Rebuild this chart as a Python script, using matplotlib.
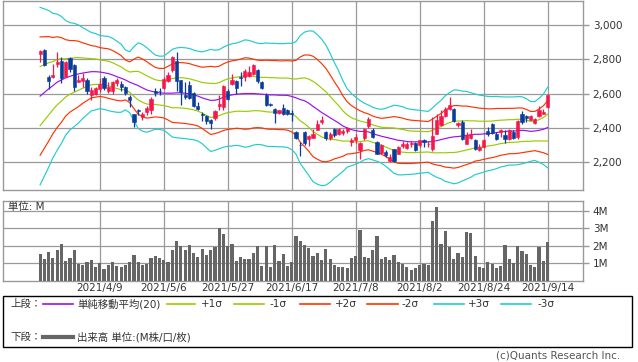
import matplotlib
matplotlib.use("Agg")
import matplotlib.pyplot as plt
import numpy as np
from matplotlib.lines import Line2D
from matplotlib.patches import Rectangle

plt.rcParams["font.family"] = ["DejaVu Sans", "Noto Sans CJK JP"]

# daily candles (index 0 .. 119, last = 2021/9/14)
open_ = [2830, 2855, 2699, 2696, 2773, 2792, 2699, 2805, 2767, 2670,
         2676, 2682, 2595, 2599, 2628, 2692, 2618, 2615, 2661, 2657,
         2641, 2580, 2480, 2507, 2464, 2493, 2503, 2618, 2618, 2632,
         2676, 2738, 2792, 2680, 2595, 2653, 2603, 2530, 2480, 2468,
         2445, 2460, 2526, 2522, 2615, 2657, 2676, 2699, 2699, 2705,
         2715, 2738, 2667, 2595, 2539, 2512, 2487, 2516, 2507, 2487,
         2378, 2304, 2378, 2339, 2345, 2391, 2435, 2376, 2345, 2397,
         2364, 2372, 2383, 2320, 2329, 2275, 2345, 2410, 2387, 2320,
         2256, 2262, 2210, 2277, 2252, 2295, 2287, 2306, 2314, 2300,
         2333, 2306, 2281, 2368, 2416, 2468, 2512, 2512, 2416, 2435,
         2310, 2345, 2333, 2271, 2291, 2383, 2426, 2368, 2377, 2358,
         2339, 2377, 2349, 2480, 2468, 2449, 2429, 2468, 2484, 2522]
high = [2855, 2859, 2711, 2773, 2844, 2811, 2792, 2811, 2773, 2711,
        2719, 2692, 2638, 2641, 2692, 2705, 2667, 2676, 2692, 2672,
        2647, 2590, 2484, 2512, 2493, 2526, 2580, 2634, 2634, 2699,
        2724, 2821, 2840, 2680, 2667, 2672, 2609, 2551, 2493, 2474,
        2455, 2507, 2595, 2650, 2628, 2715, 2680, 2724, 2744, 2763,
        2773, 2744, 2676, 2603, 2545, 2518, 2507, 2538, 2512, 2503,
        2383, 2320, 2383, 2358, 2397, 2445, 2468, 2381, 2378, 2403,
        2403, 2397, 2407, 2345, 2368, 2320, 2403, 2464, 2401, 2326,
        2310, 2272, 2248, 2281, 2295, 2326, 2320, 2326, 2320, 2333,
        2339, 2326, 2464, 2484, 2503, 2522, 2580, 2518, 2435, 2445,
        2377, 2397, 2339, 2306, 2339, 2406, 2430, 2377, 2397, 2387,
        2397, 2387, 2445, 2497, 2474, 2474, 2460, 2526, 2512, 2599]
low = [2782, 2763, 2628, 2692, 2753, 2661, 2696, 2724, 2615, 2667,
       2641, 2599, 2566, 2595, 2609, 2622, 2603, 2599, 2647, 2615,
       2595, 2522, 2406, 2474, 2445, 2474, 2484, 2584, 2595, 2628,
       2667, 2724, 2618, 2532, 2570, 2570, 2522, 2507, 2441, 2426,
       2397, 2449, 2503, 2503, 2561, 2653, 2599, 2647, 2676, 2696,
       2711, 2661, 2628, 2526, 2526, 2430, 2484, 2474, 2474, 2441,
       2339, 2239, 2300, 2297, 2345, 2387, 2422, 2333, 2329, 2349,
       2358, 2358, 2372, 2295, 2314, 2218, 2333, 2403, 2345, 2248,
       2252, 2233, 2204, 2204, 2248, 2287, 2281, 2291, 2268, 2291,
       2291, 2291, 2268, 2364, 2410, 2464, 2507, 2435, 2406, 2333,
       2306, 2339, 2271, 2268, 2287, 2352, 2364, 2333, 2349, 2314,
       2333, 2339, 2339, 2422, 2435, 2445, 2426, 2464, 2480, 2518]
close = [2846, 2767, 2672, 2711, 2782, 2692, 2782, 2744, 2638, 2682,
         2692, 2618, 2622, 2634, 2657, 2634, 2641, 2667, 2680, 2638,
         2603, 2561, 2435, 2499, 2484, 2518, 2570, 2603, 2613, 2686,
         2711, 2811, 2672, 2609, 2580, 2576, 2530, 2512, 2474, 2441,
         2430, 2497, 2538, 2647, 2570, 2680, 2634, 2694, 2730, 2724,
         2769, 2672, 2634, 2532, 2534, 2487, 2503, 2484, 2484, 2482,
         2345, 2299, 2314, 2353, 2368, 2422, 2449, 2345, 2368, 2358,
         2397, 2383, 2401, 2333, 2349, 2314, 2397, 2455, 2349, 2252,
         2300, 2243, 2233, 2210, 2291, 2310, 2310, 2314, 2272, 2329,
         2320, 2310, 2353, 2445, 2468, 2512, 2532, 2441, 2430, 2339,
         2358, 2368, 2281, 2291, 2333, 2368, 2372, 2339, 2391, 2339,
         2391, 2345, 2441, 2435, 2460, 2468, 2455, 2503, 2493, 2595]

# volume, millions of shares
volume = [1.50, 1.21, 1.62, 1.29, 1.73, 2.08, 1.10, 1.29, 1.73, 0.94,
          0.87, 1.04, 1.15, 0.77, 0.98, 0.63, 0.87, 1.04, 0.81, 0.77,
          0.87, 1.04, 1.44, 1.04, 0.87, 0.94, 1.27, 1.38, 1.27, 1.15,
          1.04, 1.73, 2.25, 1.96, 1.73, 2.02, 1.56, 1.33, 1.79, 1.44,
          1.73, 1.90, 2.98, 2.65, 1.96, 2.08, 1.10, 1.33, 1.21, 1.21,
          1.56, 1.96, 0.81, 1.96, 0.75, 2.02, 1.10, 1.50, 0.81, 1.04,
          2.54, 2.25, 2.06, 1.87, 1.38, 1.58, 1.15, 1.79, 1.21, 0.87,
          0.75, 0.75, 0.69, 1.27, 1.38, 2.88, 1.33, 1.27, 1.73, 2.54,
          1.21, 1.33, 1.15, 1.44, 1.04, 0.92, 0.75, 0.58, 0.69, 0.87,
          0.92, 0.87, 3.40, 4.21, 2.08, 2.83, 1.90, 1.21, 1.56, 1.33,
          2.77, 2.71, 1.38, 0.75, 0.69, 1.04, 0.92, 0.69, 0.81, 2.02,
          1.21, 0.98, 1.96, 1.67, 1.50, 0.87, 0.75, 1.90, 1.10, 2.19]

# 20-day simple moving average and standard deviation
ma20 = [2586, 2607, 2628, 2647, 2667, 2680, 2692, 2701, 2709, 2715,
        2720, 2724, 2728, 2728, 2726, 2722, 2717, 2709, 2699, 2690,
        2680, 2667, 2657, 2647, 2634, 2622, 2615, 2609, 2605, 2603,
        2603, 2603, 2605, 2605, 2603, 2599, 2593, 2586, 2576, 2568,
        2561, 2562, 2568, 2580, 2588, 2593, 2597, 2599, 2601, 2601,
        2601, 2599, 2597, 2595, 2593, 2593, 2591, 2591, 2590, 2584,
        2576, 2566, 2559, 2545, 2526, 2509, 2491, 2476, 2460, 2445,
        2430, 2412, 2401, 2391, 2385, 2381, 2380, 2378, 2368, 2360,
        2353, 2347, 2341, 2335, 2329, 2326, 2322, 2320, 2320, 2320,
        2320, 2320, 2322, 2327, 2333, 2339, 2345, 2349, 2351, 2354,
        2358, 2360, 2364, 2364, 2366, 2368, 2370, 2374, 2378, 2380,
        2383, 2383, 2385, 2387, 2385, 2381, 2383, 2387, 2393, 2403]
sigma = [172, 162, 152, 140, 132, 123, 111, 104, 100, 95,
         88, 82, 76, 74, 71, 71, 72, 71, 69, 66,
         58, 59, 72, 83, 84, 82, 77, 72, 71, 72,
         78, 85, 87, 88, 88, 88, 87, 87, 89, 94,
         99, 97, 96, 97, 98, 99, 99, 101, 104, 103,
         100, 98, 98, 100, 100, 100, 100, 100, 101, 103,
         109, 124, 133, 140, 146, 145, 142, 136, 125, 112,
         101, 88, 76, 70, 65, 60, 55, 52, 51, 51,
         52, 56, 61, 66, 67, 66, 64, 63, 62, 61,
         60, 59, 65, 71, 76, 83, 87, 91, 90, 87,
         85, 82, 78, 76, 74, 72, 71, 70, 68, 67,
         66, 66, 66, 65, 62, 58, 57, 62, 68, 78]

date_ticks = [14, 29, 44, 59, 74, 89, 104, 119]
date_labels = ["2021/4/9", "2021/5/6", "2021/5/27", "2021/6/17",
               "2021/7/8", "2021/8/2", "2021/8/24", "2021/9/14"]
price_ticks = [2200, 2400, 2600, 2800, 3000]
volume_ticks = [1, 2, 3, 4]

UP = "#f5174a"
DOWN = "#0a3c9b"
MA_COL = "#9a10f0"
S1_COL = "#99cc00"
S2_COL = "#ff3300"
S3_COL = "#22cccc"
VOL_COL = "#666666"
GRID = "#999999"
TXT = "#333333"

W, H = 638, 362


def fx(px):
    return px / W


def fy(py):
    return 1 - py / H


fig = plt.figure(figsize=(W / 100, H / 100), dpi=100)
ax = fig.add_axes([fx(3), fy(190), 580 / W, 189 / H])
axv = fig.add_axes([fx(3), fy(280.5), 580 / W, 79.5 / H])

x = np.arange(len(close))
o = np.array(open_, dtype=float)
c = np.array(close, dtype=float)
hi = np.array(high, dtype=float)
lo = np.array(low, dtype=float)
ma = np.array(ma20, dtype=float)
sd = np.array(sigma, dtype=float)

# bollinger bands
for k, col in [(3, S3_COL), (2, S2_COL), (1, S1_COL)]:
    ax.plot(x, ma + k * sd, color=col, lw=0.85, zorder=2)
    ax.plot(x, ma - k * sd, color=col, lw=0.85, zorder=2)
ax.plot(x, ma, color=MA_COL, lw=0.85, zorder=2)

# candles
up = c >= o
colors = np.where(up, UP, DOWN)
ax.vlines(x, lo, hi, colors=colors, lw=0.9, zorder=3)
body_bottom = np.minimum(o, c)
body_height = np.maximum(np.abs(c - o), 4)
ax.bar(x, body_height, bottom=body_bottom, width=0.74, color=colors,
       edgecolor=colors, linewidth=0.4, zorder=4)

ax.set_xlim(-8.7, 127.3)
ax.set_ylim(2040, 3139)
ax.set_xticks(date_ticks)
ax.set_yticks(price_ticks)
ax.set_yticklabels([f"{v:,}" for v in price_ticks])
ax.yaxis.tick_right()
ax.tick_params(axis="x", length=0, labelbottom=False)
ax.tick_params(axis="y", length=4, width=1, color=GRID, pad=3,
               labelsize=7.5, labelcolor=TXT)
ax.grid(True, color=GRID, lw=0.9, zorder=0)
ax.set_axisbelow(True)
for s in ax.spines.values():
    s.set_color(GRID)
    s.set_linewidth(1)

# volume
axv.bar(x, volume, width=0.74, color=VOL_COL, zorder=3)
axv.set_xlim(-8.7, 127.3)
axv.set_ylim(0, 4.55)
axv.set_xticks(date_ticks)
axv.set_xticklabels(date_labels)
axv.set_yticks(volume_ticks)
axv.set_yticklabels([f"{v}M" for v in volume_ticks])
axv.yaxis.tick_right()
axv.tick_params(axis="x", length=0, pad=2, labelsize=7.5, labelcolor=TXT)
axv.tick_params(axis="y", length=4, width=1, color=GRID, pad=3,
                labelsize=7.5, labelcolor=TXT)
axv.grid(True, color=GRID, lw=0.9, zorder=0)
axv.set_axisbelow(True)
for s in axv.spines.values():
    s.set_color(GRID)
    s.set_linewidth(1)
axv.text(0.008, 0.93, "単位: M", transform=axv.transAxes, fontsize=7.5,
         color=TXT, ha="left", va="center", zorder=5)

# legend box
fig.patches.append(Rectangle((fx(3), fy(347)), 629 / W, 51 / H,
                             transform=fig.transFigure, fill=False,
                             edgecolor="black", lw=1))
row1 = 304
entries = [
    (MA_COL, 43, 73, "単純移動平均(20)", 77),
    (S1_COL, 167, 195, "+1σ", 201),
    (S1_COL, 234, 264, "-1σ", 270),
    (S2_COL, 300, 330, "+2σ", 335),
    (S2_COL, 367, 398, "-2σ", 402),
    (S3_COL, 434, 464, "+3σ", 468),
    (S3_COL, 501, 531, "-3σ", 537),
]
fig.text(fx(10), fy(row1), "上段：", fontsize=7.5, color=TXT, va="center")
for col, x0, x1, label, tx in entries:
    fig.lines.append(Line2D([fx(x0), fx(x1)], [fy(row1), fy(row1)],
                            transform=fig.transFigure, color=col, lw=1.2))
    fig.text(fx(tx), fy(row1), label, fontsize=7.5, color=TXT, va="center")

row2 = 337
fig.text(fx(10), fy(row2), "下段：", fontsize=7.5, color=TXT, va="center")
fig.lines.append(Line2D([fx(43), fx(73)], [fy(row2), fy(row2)],
                        transform=fig.transFigure, color=VOL_COL, lw=3))
fig.text(fx(77), fy(row2), "出来高 単位:(M株/口/枚)", fontsize=7.5,
         color=TXT, va="center")

fig.text(fx(620), fy(356), "(c)Quants Research Inc.", fontsize=7.5,
         color="#555555", ha="right", va="center")

fig.savefig("out.png", dpi=100)
